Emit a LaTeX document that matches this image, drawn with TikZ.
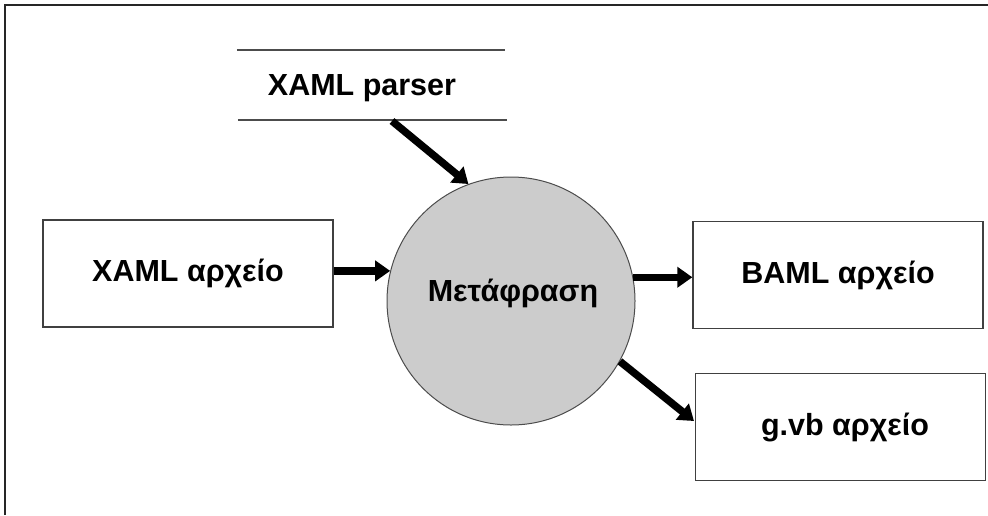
\documentclass[tikz,border=0pt]{standalone}
\usepackage{fontspec}
\setmainfont{Liberation Sans}
\usetikzlibrary{arrows.meta}
\begin{document}
\begin{tikzpicture}[x=1pt,y=-1pt,
  every node/.style={font=\bfseries\fontsize{30.5}{36}\selectfont},
  filebox/.style={draw=black!75,line width=1.3pt,minimum width=290pt,minimum height=107pt,inner sep=0pt},
  arr/.style={line width=7.5pt,-{Triangle[length=15pt,width=20pt]}}]
\useasboundingbox (0,0) rectangle (988,515);
% frame edges
\draw[line width=2.2pt,black!85] (5,515) -- (5,5) -- (988,5);
% file boxes
\node[filebox] (xaml) at (188,273.5) {XAML αρχείο};
\node[filebox] (baml) at (838,275) {BAML αρχείο};
\node[filebox] (gvb) at (840.5,427) {\hspace*{9pt}g.vb αρχείο};
% translation step
\node[circle,draw=black!70,fill=black!20,line width=1pt,minimum size=248pt,inner sep=0pt] (circ) at (511,301) {};
\node (trans) at (513,293) {Μετάφραση};
% parser, set between two rules
\node[minimum width=268pt,minimum height=70pt,inner sep=0pt] (parser) at (371,85) {};
\node (parsertxt) at (362,88) {XAML parser};
\draw[line width=1.5pt,black!70] (parser.north west) -- (parser.north east);
\draw[line width=1.5pt,black!70] ([xshift=1pt]parser.south west) -- ([xshift=2pt]parser.south east);
% connectors
\coordinate (ps) at (392,121);
\coordinate (gin) at (694,421);
\draw[arr] (ps) -- (circ.110);
\draw[arr] (circ.166 -| xaml.east) -- (circ.166);
\draw[arr] (circ.11) -- (circ.11 -| baml.west);
\draw[arr] (circ.-29) -- (gin);
\end{tikzpicture}
\end{document}
